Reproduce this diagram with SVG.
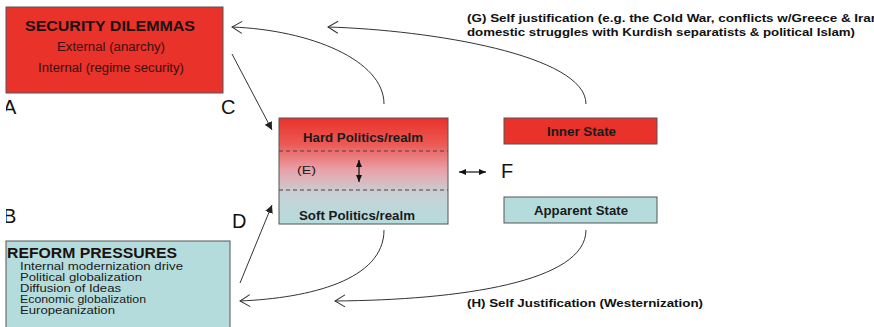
<svg xmlns="http://www.w3.org/2000/svg" width="874" height="327" viewBox="0 0 874 327">
<defs>
<linearGradient id="mid" x1="0" y1="0" x2="0" y2="1">
<stop offset="0" stop-color="#e8322a"/>
<stop offset="0.25" stop-color="#ec5a55"/>
<stop offset="0.5" stop-color="#e9a3ab"/>
<stop offset="0.72" stop-color="#c6d2d6"/>
<stop offset="1" stop-color="#b5dcdc"/>
</linearGradient>
<marker id="open" markerWidth="14" markerHeight="14" refX="11" refY="7" orient="auto" markerUnits="userSpaceOnUse">
<path d="M1,1 L11,7 L1,13" fill="none" stroke="#333" stroke-width="1"/>
</marker>
<marker id="solid" markerWidth="8" markerHeight="8" refX="7" refY="4" orient="auto-start-reverse" markerUnits="userSpaceOnUse">
<path d="M0,1 L7,4 L0,7 Z" fill="#111"/>
</marker>
<marker id="tip" markerWidth="10" markerHeight="10" refX="8" refY="5" orient="auto" markerUnits="userSpaceOnUse">
<path d="M0,1 L8,5 L0,9 Z" fill="#222"/>
</marker>
<clipPath id="leftclip"><rect x="6" y="0" width="40" height="327"/></clipPath>
</defs>
<style>
.box{stroke:#555;stroke-width:1}
.title{font-family:"Liberation Sans",Arial,sans-serif;font-weight:bold;font-size:14px;fill:#1a1010}
.reg{font-family:"Liberation Sans",Arial,sans-serif;font-size:11px;fill:#1a1a1a}
.sec{font-family:"Liberation Sans",Arial,sans-serif;font-size:12px;fill:#3a1010}
.b12{font-family:"Liberation Sans",Arial,sans-serif;font-weight:bold;font-size:12px;fill:#1a1a1a}
.b11{font-family:"Liberation Sans",Arial,sans-serif;font-weight:bold;font-size:11px;fill:#111}
.big{font-family:"Liberation Sans",Arial,sans-serif;font-size:20px;fill:#111}
.conn{fill:none;stroke:#333;stroke-width:1}
</style>
<rect width="874" height="327" fill="#ffffff"/>

<g id="security">
<rect class="box" x="6" y="7" width="217" height="86" fill="#e8322a"/>
<text class="title" x="25" y="31" textLength="170" lengthAdjust="spacingAndGlyphs">SECURITY DILEMMAS</text>
<text class="sec" x="57" y="51" textLength="108" lengthAdjust="spacingAndGlyphs">External (anarchy)</text>
<text class="sec" x="38" y="72" textLength="146" lengthAdjust="spacingAndGlyphs">Internal (regime security)</text>
</g>

<g id="reform">
<rect class="box" x="6" y="241" width="224" height="100" fill="#b5dcdc"/>
<text class="title" x="7" y="258" textLength="170" lengthAdjust="spacingAndGlyphs">REFORM PRESSURES</text>
<text class="reg" x="20" y="270" textLength="163" lengthAdjust="spacingAndGlyphs">Internal modernization drive</text>
<text class="reg" x="20" y="281" textLength="122" lengthAdjust="spacingAndGlyphs">Political globalization</text>
<text class="reg" x="20" y="292" textLength="101" lengthAdjust="spacingAndGlyphs">Diffusion of Ideas</text>
<text class="reg" x="20" y="303" textLength="126" lengthAdjust="spacingAndGlyphs">Economic globalization</text>
<text class="reg" x="20" y="314" textLength="95" lengthAdjust="spacingAndGlyphs">Europeanization</text>
</g>

<g id="politics">
<rect class="box" x="279" y="118" width="169" height="106" fill="url(#mid)"/>
<line x1="279" y1="151" x2="448" y2="151" stroke="#444" stroke-width="1" stroke-dasharray="4,3"/>
<line x1="279" y1="190" x2="448" y2="190" stroke="#444" stroke-width="1" stroke-dasharray="4,3"/>
<text class="b12" x="303" y="142" textLength="120" lengthAdjust="spacingAndGlyphs">Hard Politics/realm</text>
<text class="b12" x="299" y="220" textLength="116" lengthAdjust="spacingAndGlyphs">Soft Politics/realm</text>
<text class="reg" x="297" y="174" textLength="19" lengthAdjust="spacingAndGlyphs">(E)</text>
<line x1="359" y1="160" x2="359" y2="182" stroke="#111" stroke-width="1.2" marker-start="url(#solid)" marker-end="url(#solid)"/>
</g>

<g id="inner">
<rect class="box" x="504" y="118" width="153" height="26" fill="#e8322a"/>
<text class="b12" x="547" y="136" textLength="69" lengthAdjust="spacingAndGlyphs">Inner State</text>
</g>

<g id="apparent">
<rect class="box" x="504" y="197" width="153" height="26" fill="#b5dcdc"/>
<text class="b12" x="534" y="215" textLength="94" lengthAdjust="spacingAndGlyphs">Apparent State</text>
</g>

<g id="labels">
<g clip-path="url(#leftclip)">
<text class="big" x="3" y="114">A</text>
<text class="big" x="3" y="223">B</text>
</g>
<text class="big" x="221" y="114">C</text>
<text class="big" x="232" y="228">D</text>
<text class="big" x="501" y="178">F</text>
<text class="b11" x="467" y="22" textLength="412" lengthAdjust="spacingAndGlyphs">(G) Self justification (e.g. the Cold War, conflicts w/Greece &amp; Iran</text>
<text class="b11" x="467" y="36" textLength="388" lengthAdjust="spacingAndGlyphs">domestic struggles with Kurdish separatists &amp; political Islam)</text>
<text class="b11" x="467" y="307" textLength="236" lengthAdjust="spacingAndGlyphs">(H) Self Justification (Westernization)</text>
</g>

<g id="connectors">
<path class="conn" d="M384,104 C384,60 310,30 232,27" marker-end="url(#open)"/>
<path class="conn" d="M586,104 C586,55 430,30 328,27" marker-end="url(#open)"/>
<path class="conn" d="M232,54 L272,130" marker-end="url(#tip)"/>
<path class="conn" d="M240,283 L272,205" marker-end="url(#tip)"/>
<path class="conn" d="M384,230 C384,280 310,298 240,301" marker-end="url(#open)"/>
<path class="conn" d="M586,230 C586,282 460,300 335,301" marker-end="url(#open)"/>
<line x1="459" y1="172" x2="486" y2="172" stroke="#111" stroke-width="1.2" marker-start="url(#solid)" marker-end="url(#solid)"/>
</g>
</svg>
